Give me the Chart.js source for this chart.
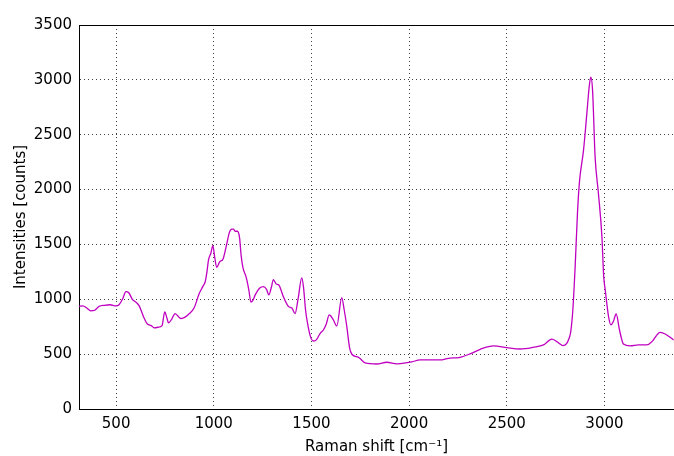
<!DOCTYPE html>
<html>
<head>
<meta charset="utf-8">
<script src="https://cdn.jsdelivr.net/npm/chart.js@4/dist/chart.umd.min.js"></script>
<style>
  html, body { margin: 0; padding: 0; background: #fff; }
  #wrap { width: 674px; height: 456px; }
</style>
</head>
<body>
<div id="wrap"><canvas id="chart" width="674" height="456"></canvas></div>
<script>
// Spettro Raman
const ramanShift = [
  310, 330, 350, 370, 390, 413, 440, 470, 498, 515, 535, 550, 565, 583, 600, 618,
  643, 660, 680, 695, 715, 735, 749, 760, 768, 785, 802, 815, 831, 845, 857, 875,
  899, 925, 945, 956, 965, 973, 985, 995, 1005, 1015, 1030, 1048, 1067, 1080, 1092,
  1101, 1109, 1121, 1132, 1140, 1149, 1166, 1180, 1190, 1200, 1212, 1234, 1254,
  1270, 1282, 1295, 1305, 1319, 1333, 1345, 1357, 1382, 1400, 1416, 1433, 1450,
  1459, 1470, 1480, 1495, 1510, 1525, 1545, 1561, 1575, 1591, 1610, 1630, 1655,
  1668, 1681, 1695, 1707, 1741, 1775, 1835, 1886, 1937, 1997, 2014, 2056, 2159,
  2201, 2261, 2312, 2364, 2432, 2500, 2568, 2637, 2688, 2731, 2756, 2787, 2807,
  2818, 2827, 2838, 2850, 2862, 2872, 2893, 2910, 2923, 2930, 2939, 2952, 2969,
  2987, 2996, 3004, 3021, 3033, 3046, 3060, 3077, 3097, 3132, 3174, 3217, 3243, 3285,
  3311, 3354
];
const intensity = [
  935, 940, 920, 895, 900, 935, 945, 950, 940, 950, 1010, 1070, 1060, 1000, 975, 940,
  830, 775, 760, 740, 745, 760, 885, 830, 785, 820, 870, 850, 825, 830, 842, 870,
  920, 1050, 1120, 1160, 1250, 1360, 1420, 1490, 1380, 1290, 1340, 1370, 1510, 1610, 1640,
  1640, 1620, 1620, 1560, 1400, 1290, 1200, 1080, 975, 990, 1040, 1100, 1115,
  1090, 1040, 1110, 1180, 1140, 1130, 1080, 1020, 935, 920, 870, 1020, 1195,
  1116, 900, 780, 660, 620, 630, 690, 720, 770, 857, 820, 757, 1015,
  900, 751, 560, 499, 471, 420, 410, 426, 412, 425, 430, 447, 447,
  462, 471, 502, 544, 575, 559, 547, 563, 584, 636, 614, 578, 599,
  640, 700, 900, 1300, 1790, 2070, 2362, 2697, 2955, 3025, 2909, 2301, 1967,
  1571, 1210, 1085, 842, 766, 800, 866, 720, 593, 575, 584, 584, 614, 699,
  684, 629
];
const xTicks = [500, 1000, 1500, 2000, 2500, 3000];
const yTicks = [0, 500, 1000, 1500, 2000, 2500, 3000, 3500];

const points = ramanShift.map((x, i) => ({ x: x, y: intensity[i] }));

// cornice superiore (stile matplotlib)
const framePlugin = {
  id: 'frame',
  afterDraw(chart) {
    const { ctx, chartArea } = chart;
    ctx.save();
    ctx.strokeStyle = '#000';
    ctx.lineWidth = 1;
    ctx.beginPath();
    ctx.moveTo(chartArea.left, chartArea.top + 0.5);
    ctx.lineTo(chartArea.right, chartArea.top + 0.5);
    ctx.stroke();
    ctx.restore();
  }
};

const font = { family: 'DejaVu Sans', size: 15 };

new Chart(document.getElementById('chart'), {
  type: 'line',
  data: {
    datasets: [{
      data: points,
      borderColor: '#c000c0',
      borderWidth: 1.3,
      pointRadius: 0,
      fill: false,
      cubicInterpolationMode: 'monotone'
    }]
  },
  options: {
    responsive: false,
    animation: false,
    layout: { padding: { top: 25, right: 0, left: 0, bottom: 0 } },
    plugins: { legend: { display: false }, tooltip: { enabled: false } },
    scales: {
      x: {
        type: 'linear',
        min: 310,
        max: 3356,
        afterBuildTicks: (scale) => { scale.ticks = xTicks.map(v => ({ value: v })); },
        afterFit: (scale) => { scale.height = 47; },
        grid: { color: 'rgba(0,0,0,0.75)', drawTicks: false },
        border: { display: true, color: '#000', width: 1, dash: [1, 3] },
        ticks: { color: '#000', font: font, padding: 6, maxRotation: 0, callback: (v) => String(v) },
        title: { display: true, text: 'Raman shift [cm\u207B\u00B9]', color: '#000', font: font, padding: { top: 0, bottom: 0 } }
      },
      y: {
        min: 0,
        max: 3500,
        afterBuildTicks: (scale) => { scale.ticks = yTicks.map(v => ({ value: v })); },
        afterFit: (scale) => { scale.width = 79; },
        grid: { color: 'rgba(0,0,0,0.75)', drawTicks: false },
        border: { display: true, color: '#000', width: 1, dash: [1, 3] },
        ticks: { color: '#000', font: font, padding: 7, callback: (v) => String(v) },
        title: { display: true, text: 'Intensities [counts]', color: '#000', font: font, padding: { top: 12, bottom: 0 } }
      }
    }
  },
  plugins: [framePlugin]
});
</script>
</body>
</html>
